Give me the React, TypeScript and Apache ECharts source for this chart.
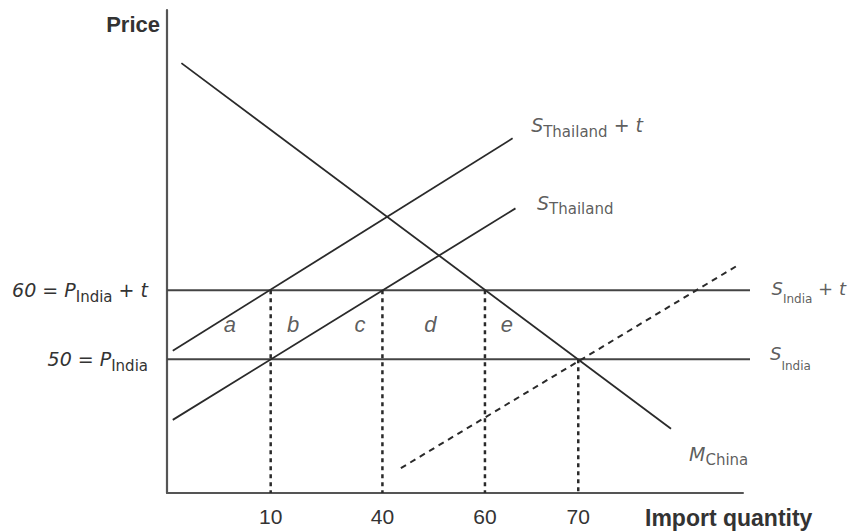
import React, { useEffect, useRef } from "react";
import * as echarts from "echarts";

// ---- data (schematic diagram: x in position units 0..100, y in price) ----
const quantityTickLabels = ["10", "40", "60", "70"];
const quantityTickPositions = [18, 37.4, 55.2, 71.4];
const priceLevels = [50, 60];
const dropLineTops = [60, 60, 60, 50];
const importDemandChina = [[2.5, 92.9], [87.5, 39.9]];
const supplyThailandTariff = [[1, 51.2], [60, 82]];
const supplyThailand = [[1, 41.2], [60.5, 71.85]];
const supplyDashed = [[40.6, 34.2], [99.5, 63.8]];
const supplyIndia = [[0, 50], [101.2, 50]];
const supplyIndiaTariff = [[0, 60], [101.2, 60]];
const areaLetters = ["a", "b", "c", "d", "e"];
const areaLetterX = [10.9, 21.9, 33.5, 45.7, 59];
const areaLetterPrice = 55;
const X_MIN = 0;
const X_MAX = 100;
const X_MAX_WIDE = 101.2;
const Y_MIN = 30.6;
const Y_MAX = 100.6;

const INK = "#2a2a2a";
const TEXT = "#333";
const SANS = "'DejaVu Sans', sans-serif";
const ARIAL = "'Liberation Sans', Arial, sans-serif";

function last(arr: number[][]) {
  return arr[arr.length - 1];
}

function richSet(main: number, sub: number, lineHeight: number) {
  return {
    m: { fontFamily: SANS, fontStyle: "italic", fontSize: main, lineHeight, color: TEXT, verticalAlign: "middle" },
    s: { fontFamily: SANS, fontSize: sub, lineHeight: sub + 1, color: TEXT, verticalAlign: "bottom" },
  };
}

function lineSeries(name: string, data: number[][], style: any, axisIndex = 0) {
  return {
    name,
    type: "line",
    data,
    xAxisIndex: axisIndex,
    yAxisIndex: axisIndex,
    symbol: "none",
    showSymbol: false,
    clip: false,
    silent: true,
    lineStyle: style,
    z: 3,
  };
}

export default function App() {
  const ref = useRef<HTMLDivElement>(null);

  useEffect(() => {
    if (!ref.current) return;
    const chart = echarts.init(ref.current, null, { renderer: "svg" });

    const solid = { color: INK, width: 1.8, type: "solid" };
    const horiz = { color: "#444", width: 2, type: "solid" };
    const dotted = { color: INK, width: 2.5, type: [4, 4] };
    const dashed = { color: INK, width: 2, type: [6, 5] };

    const dropSeries = quantityTickPositions.map((x, i) =>
      lineSeries("drop" + quantityTickLabels[i], [[x, dropLineTops[i]], [x, Y_MIN]], dotted)
    );

    const labelBase = { show: true, position: "right", distance: 0, align: "left" };

    const annotations = [
      {
        value: last(supplyThailandTariff),
        label: { ...labelBase, formatter: "{m|S}{s|Thailand}{m| + t}", offset: [18.5, -13], rich: richSet(19, 15, 28) },
      },
      {
        value: last(supplyThailand),
        label: { ...labelBase, formatter: "{m|S}{s|Thailand}", offset: [21.5, -5.5], rich: richSet(19, 15, 28) },
      },
      {
        value: last(supplyIndiaTariff),
        label: { ...labelBase, formatter: "{m|S}{s|India}{m| + t}", offset: [21.5, -1.5], rich: richSet(18, 12, 33) },
      },
      {
        value: last(supplyIndia),
        label: { ...labelBase, formatter: "{m|S}{s|India}", offset: [20, -5.5], rich: richSet(18, 12, 37) },
      },
      {
        value: last(importDemandChina),
        label: { ...labelBase, formatter: "{m|M}{s|China}", offset: [18, 25], rich: richSet(19, 15, 28) },
      },
    ];

    const letters = areaLetters.map((l, i) => ({
      value: [areaLetterX[i], areaLetterPrice],
      label: {
        show: true,
        position: "inside",
        formatter: l,
        fontFamily: ARIAL,
        fontStyle: "italic",
        fontSize: 22,
        color: TEXT,
      },
    }));

    const hiddenAxis = {
      show: false,
      axisLine: { show: false },
      axisTick: { show: false },
      axisLabel: { show: false },
      splitLine: { show: false },
    };

    const option: any = {
      animation: false,
      backgroundColor: "#fff",
      grid: [
        { left: 167, top: 10, right: 108, bottom: 38, containLabel: false, outerBoundsMode: "none" },
        // same scale, extended 7px further right so the price lines can run past the axis end
        { left: 167, top: 10, right: 101, bottom: 38, containLabel: false, outerBoundsMode: "none" },
      ],
      xAxis: [
        {
          type: "value",
          gridIndex: 0,
          min: X_MIN,
          max: X_MAX,
          name: "Import quantity",
          nameLocation: "end",
          nameGap: -98,
          nameMoveOverlap: false,
          nameTextStyle: {
            fontFamily: ARIAL,
            fontWeight: "bold",
            fontSize: 23,
            lineHeight: 23,
            color: TEXT,
            align: "left",
            verticalAlign: "top",
            padding: [13, 0, 0, 0],
          },
          axisLine: { show: true, onZero: false, lineStyle: { color: "#555", width: 2 } },
          axisTick: { show: false },
          splitLine: { show: false },
          axisLabel: {
            customValues: quantityTickPositions,
            margin: 13,
            fontFamily: ARIAL,
            fontSize: 21,
            color: TEXT,
            formatter: (v: number) => {
              const i = quantityTickPositions.findIndex((p) => Math.abs(p - v) < 1e-6);
              return i >= 0 ? quantityTickLabels[i] : "";
            },
          },
        },
        { type: "value", gridIndex: 1, min: X_MIN, max: X_MAX_WIDE, ...hiddenAxis },
      ],
      yAxis: [
        {
          type: "value",
          gridIndex: 0,
          min: Y_MIN,
          max: Y_MAX,
          name: "Price",
          nameLocation: "end",
          nameGap: -14,
          nameMoveOverlap: false,
          nameTextStyle: {
            fontFamily: ARIAL,
            fontWeight: "bold",
            fontSize: 22,
            color: TEXT,
            align: "right",
            verticalAlign: "middle",
            padding: [0, 7, 0, 0],
          },
          axisLine: { show: true, onZero: false, lineStyle: { color: "#555", width: 2.2 } },
          axisTick: { show: false },
          splitLine: { show: false },
          axisLabel: {
            customValues: priceLevels,
            margin: 19,
            align: "right",
            formatter: (v: number) =>
              v === priceLevels[1] ? `{m|${v} = P}{s|India}{m| + t}` : `{m|${v} = P}{s|India}`,
            rich: richSet(19, 15, 29),
          },
        },
        { type: "value", gridIndex: 1, min: Y_MIN, max: Y_MAX, ...hiddenAxis },
      ],
      series: [
        lineSeries("S_India", supplyIndia, horiz, 1),
        lineSeries("S_India + t", supplyIndiaTariff, horiz, 1),
        ...dropSeries,
        lineSeries("M_China", importDemandChina, solid),
        lineSeries("S_Thailand + t", supplyThailandTariff, solid),
        lineSeries("S_Thailand", supplyThailand, solid),
        lineSeries("dashed supply", supplyDashed, dashed),
        {
          name: "labels",
          type: "scatter",
          xAxisIndex: 1,
          yAxisIndex: 1,
          symbolSize: 0,
          silent: true,
          clip: false,
          itemStyle: { color: "transparent" },
          data: [...annotations, ...letters],
          z: 5,
        },
      ],
    };

    chart.setOption(option);
    return () => chart.dispose();
  }, []);

  return (
    <div
      ref={ref}
      style={{ position: "fixed", left: 0, top: 0, width: 851, height: 531, background: "#fff" }}
    />
  );
}
